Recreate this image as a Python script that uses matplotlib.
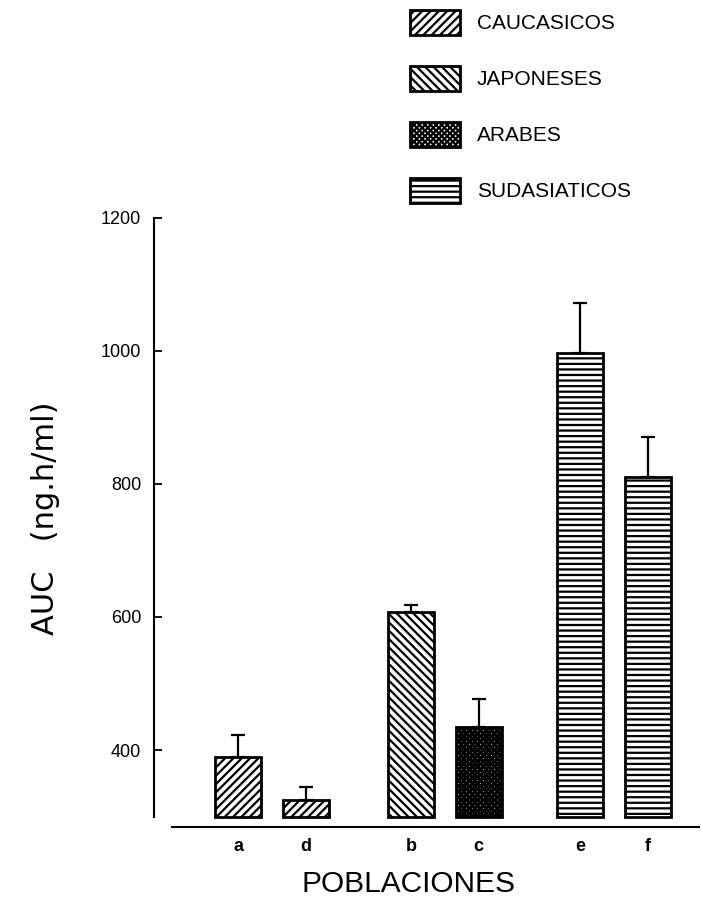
from matplotlib import pyplot as plt
import numpy as np

# bar data (AUC, ng.h/ml); bars start at 300
grupos = ['a', 'd', 'b', 'c', 'e', 'f']
posiciones = [0, 1, 2.55, 3.55, 5.05, 6.05]
auc = [389, 325, 608, 435, 997, 810]
error_sup = [34, 20, 10, 42, 75, 60]
poblacion = ['CAUCASICOS', 'CAUCASICOS', 'JAPONESES', 'ARABES', 'SUDASIATICOS', 'SUDASIATICOS']
leyenda = ['CAUCASICOS', 'JAPONESES', 'ARABES', 'SUDASIATICOS']
tramas = {'CAUCASICOS': '////', 'JAPONESES': '\\\\\\\\', 'ARABES': 'xxxxxx', 'SUDASIATICOS': '---'}
grosor_trama = {'CAUCASICOS': 1.6, 'JAPONESES': 1.6, 'ARABES': 2.2, 'SUDASIATICOS': 1.6}
base = 300
yticks = [400, 600, 800, 1000, 1200]

plt.rcParams['font.family'] = ['Liberation Sans', 'DejaVu Sans']
plt.rcParams['hatch.color'] = 'black'

fig = plt.figure(figsize=(7.02, 9.0), dpi=100)
ax = fig.add_axes([0.2188, 0.0706, 0.7764, 0.702])

handles = {}
for x, h, p in zip(posiciones, auc, poblacion):
    with plt.rc_context({'hatch.linewidth': grosor_trama[p]}):
        b = ax.bar(x, h - base, bottom=base, width=0.68, color='white',
                   edgecolor='black', linewidth=2, hatch=tramas[p], label=p)
    handles.setdefault(p, b)

ax.errorbar(posiciones, auc, yerr=[np.zeros(len(auc)), error_sup], fmt='none',
            ecolor='black', elinewidth=1.6, capsize=5, capthick=1.6)

ax.set_xlim(-1.25, 6.8)
ax.set_ylim(270, 1220)

for s in ['top', 'right']:
    ax.spines[s].set_visible(False)
ax.spines['left'].set_bounds(base, 1200)
ax.spines['left'].set_linewidth(1.5)
ax.spines['bottom'].set_position(('data', 284))
ax.spines['bottom'].set_bounds(-0.98, 6.8)
ax.spines['bottom'].set_linewidth(1.5)

ax.set_yticks(yticks)
ax.set_yticklabels([str(v) for v in yticks])
ax.tick_params(axis='y', direction='in', length=6, width=1.3, pad=9, labelsize=13)
ax.set_xticks(posiciones)
ax.set_xticklabels(grupos, fontweight='bold')
ax.tick_params(axis='x', length=0, pad=8, labelsize=13)

ax.set_ylabel('AUC   (ng.h/ml)', fontsize=22, family='DejaVu Sans')
ax.yaxis.set_label_coords(-0.172, 0.504)
ax.set_xlabel('POBLACIONES', fontsize=21.5)
ax.xaxis.set_label_coords(0.467, -0.053)

with plt.rc_context({'hatch.linewidth': 1.6}):
    ax.legend([handles[k] for k in leyenda], leyenda, loc='upper left',
              bbox_to_anchor=(410 / 702, 1 - 10 / 900), bbox_transform=fig.transFigure,
              frameon=False, fontsize=15, handlelength=2.4, handleheight=1.45,
              labelspacing=1.5, handletextpad=0.8, borderpad=0, borderaxespad=0)

plt.savefig('out.png', dpi=100)
